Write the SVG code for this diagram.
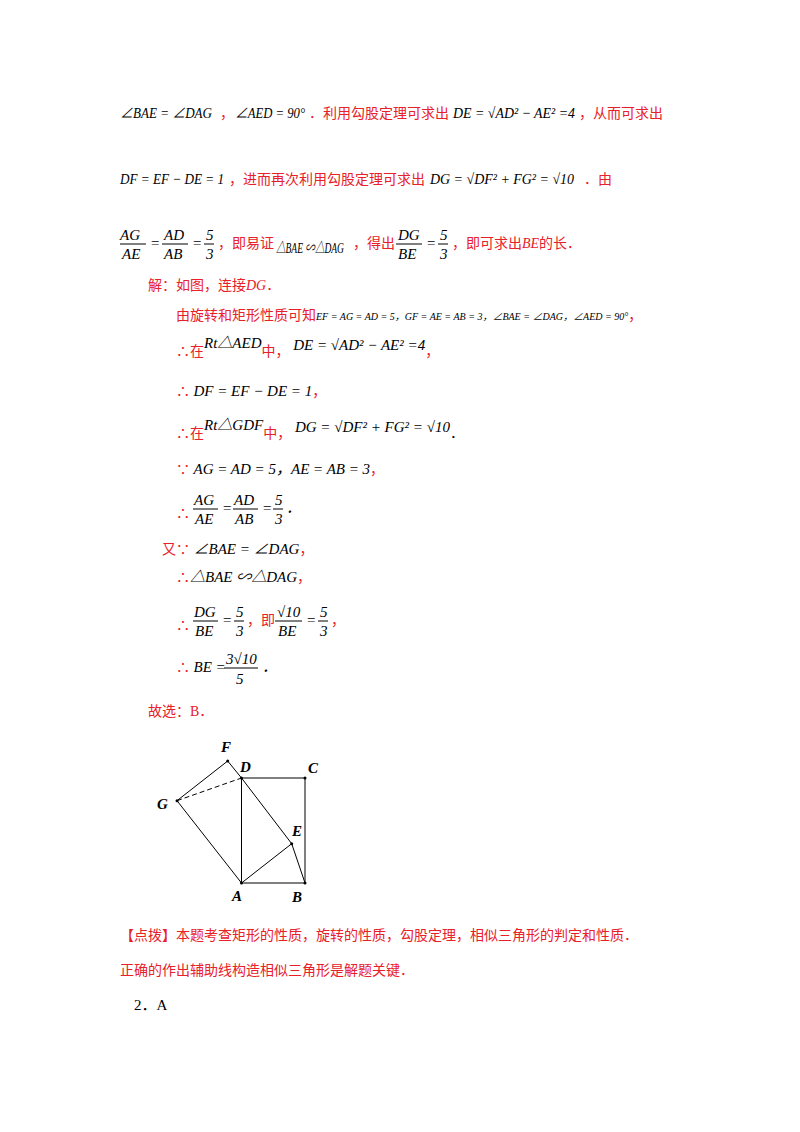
<svg xmlns="http://www.w3.org/2000/svg" width="800" height="1132" viewBox="0 0 800 1132">
<style>
text{font-family:"Liberation Serif","Noto Sans CJK SC",serif;font-size:15px}
.r{fill:#e8202a;font-size:14px}
.m{font-style:italic;fill:#000;font-size:15px}
.s{font-size:10px;font-style:italic;fill:#000}
.lab{font-weight:bold;font-style:italic;font-size:15px;fill:#000}
.ln{stroke:#000;stroke-width:1;fill:none}
</style>
<rect width="800" height="1132" fill="#fff"/>
<text x="120" y="118" class="m" textLength="92" lengthAdjust="spacingAndGlyphs">∠BAE = ∠DAG</text>
<text x="220" y="118" class="r">，</text>
<text x="235" y="118" class="m" textLength="70" lengthAdjust="spacingAndGlyphs">∠AED = 90°</text>
<text x="309" y="118" class="r">．利用勾股定理可求出</text>
<text x="453" y="118" class="m" textLength="122" lengthAdjust="spacingAndGlyphs">DE = √AD² − AE² =4</text>
<text x="579" y="118" class="r">，从而可求出</text>
<text x="120" y="184" class="m" textLength="104" lengthAdjust="spacingAndGlyphs">DF = EF − DE = 1</text>
<text x="229" y="184" class="r">，进而再次利用勾股定理可求出</text>
<text x="430" y="184" class="m" textLength="144" lengthAdjust="spacingAndGlyphs">DG = √DF² + FG² = √10</text>
<text x="584" y="184" class="r">．由</text>
<text x="120" y="240" class="m">AG</text><line x1="120" y1="244" x2="146" y2="244" class="ln"/><text x="122" y="259" class="m">AE</text>
<text x="150" y="248" class="m">=</text>
<text x="164" y="240" class="m">AD</text><line x1="162" y1="244" x2="188" y2="244" class="ln"/><text x="164" y="259" class="m">AB</text>
<text x="192" y="248" class="m">=</text>
<text x="206" y="240" class="m">5</text><line x1="204" y1="244" x2="214" y2="244" class="ln"/><text x="206" y="259" class="m">3</text>
<text x="218" y="248" class="r">，即易证</text>
<text x="276" y="253" class="m" font-size="13" textLength="68" lengthAdjust="spacingAndGlyphs">△BAE ∽△DAG</text>
<text x="395" y="248" class="r" text-anchor="end">，得出</text>
<text x="398" y="240" class="m">DG</text><line x1="396" y1="244" x2="422" y2="244" class="ln"/><text x="398" y="259" class="m">BE</text>
<text x="426" y="248" class="m">=</text>
<text x="440" y="240" class="m">5</text><line x1="438" y1="244" x2="448" y2="244" class="ln"/><text x="440" y="259" class="m">3</text>
<text x="452" y="248" class="r">，即可求出<tspan font-style="italic">BE</tspan>的长．</text>
<text x="148" y="290" class="r">解：如图，连接<tspan font-style="italic">DG</tspan>．</text>
<text x="176" y="320"><tspan class="r">由旋转和矩形性质可知</tspan><tspan class="s">EF = AG = AD = 5，GF = AE = AB = 3，∠BAE = ∠DAG，∠AED = 90°</tspan><tspan class="r">，</tspan></text>
<text x="176" y="356" class="r">∴在<tspan class="m" dy="-8">Rt△AED</tspan><tspan dy="8">中，</tspan><tspan class="m" dy="-6"> DE = √AD² − AE² =4</tspan><tspan dy="6">，</tspan></text>
<text x="176" y="396"><tspan class="r">∴ </tspan><tspan class="m">DF = EF − DE = 1</tspan><tspan class="r">，</tspan></text>
<text x="176" y="438" class="r">∴在<tspan class="m" dy="-8">Rt△GDF</tspan><tspan dy="8">中，</tspan><tspan class="m" dy="-6"> DG = √DF² + FG² = √10</tspan><tspan dy="6" fill="#000">．</tspan></text>
<text x="176" y="474"><tspan class="r">∵ </tspan><tspan class="m">AG = AD = 5，AE = AB = 3</tspan><tspan class="r">，</tspan></text>
<text x="176" y="518" class="r">∴</text>
<text x="194" y="505" class="m">AG</text><line x1="193" y1="509" x2="218" y2="509" class="ln"/><text x="195" y="524" class="m">AE</text>
<text x="222" y="513" class="m">=</text>
<text x="234" y="505" class="m">AD</text><line x1="233" y1="509" x2="258" y2="509" class="ln"/><text x="235" y="524" class="m">AB</text>
<text x="262" y="513" class="m">=</text>
<text x="275" y="505" class="m">5</text><line x1="273" y1="509" x2="283" y2="509" class="ln"/><text x="275" y="524" class="m">3</text>
<text x="286" y="513" class="m">．</text>
<text x="162" y="554"><tspan class="r">又∵ </tspan><tspan class="m">∠BAE = ∠DAG</tspan><tspan class="r">，</tspan></text>
<text x="176" y="582"><tspan class="r">∴</tspan><tspan class="m" font-size="13">△BAE ∽△DAG</tspan><tspan class="r">，</tspan></text>
<text x="176" y="630" class="r">∴</text>
<text x="194" y="617" class="m">DG</text><line x1="193" y1="621" x2="218" y2="621" class="ln"/><text x="195" y="636" class="m">BE</text>
<text x="222" y="625" class="m">=</text>
<text x="236" y="617" class="m">5</text><line x1="234" y1="621" x2="244" y2="621" class="ln"/><text x="236" y="636" class="m">3</text>
<text x="247" y="625" class="r">，即</text>
<text x="277" y="617" class="m">√10</text><line x1="275" y1="621" x2="302" y2="621" class="ln"/><text x="278" y="636" class="m">BE</text>
<text x="306" y="625" class="m">=</text>
<text x="320" y="617" class="m">5</text><line x1="318" y1="621" x2="328" y2="621" class="ln"/><text x="320" y="636" class="m">3</text>
<text x="331" y="625" class="r">，</text>
<text x="176" y="672"><tspan class="r">∴ </tspan><tspan class="m">BE =</tspan></text>
<text x="226" y="664" class="m">3√10</text><line x1="224" y1="668" x2="258" y2="668" class="ln"/><text x="236" y="684" class="m">5</text>
<text x="262" y="672" class="m">．</text>
<text x="148" y="716" class="r">故选：B．</text>
<g id="figure">
<g id="lines" class="ln">
<polygon points="241.5,778 305,778 305,883 241.5,883"/>
<polyline points="241.5,883 177,800.7 227.7,761 241.5,778 291.7,843.7 241.5,883"/>
<line x1="291.7" y1="843.7" x2="305" y2="883"/>
<line x1="177" y1="800.7" x2="241.5" y2="778" stroke-dasharray="5,3"/>
</g>
<g fill="#000"><circle cx="241.5" cy="778" r="1.5"/><circle cx="305" cy="778" r="1.5"/><circle cx="305" cy="883" r="1.5"/><circle cx="241.5" cy="883" r="1.5"/><circle cx="177" cy="800.7" r="1.5"/><circle cx="227.7" cy="761" r="1.5"/><circle cx="291.7" cy="843.7" r="1.5"/></g>
<text class="lab" x="221" y="752">F</text>
<text class="lab" x="240" y="772">D</text>
<text class="lab" x="308" y="773">C</text>
<text class="lab" x="157" y="809">G</text>
<text class="lab" x="292" y="836">E</text>
<text class="lab" x="232" y="901">A</text>
<text class="lab" x="292" y="902">B</text>
</g>
<text x="120" y="940" class="r" font-size="15">【点拨】本题考查矩形的性质，旋转的性质，勾股定理，相似三角形的判定和性质．</text>
<text x="120" y="975" class="r">正确的作出辅助线构造相似三角形是解题关键．</text>
<text x="134" y="1010">2．A</text>
</svg>
